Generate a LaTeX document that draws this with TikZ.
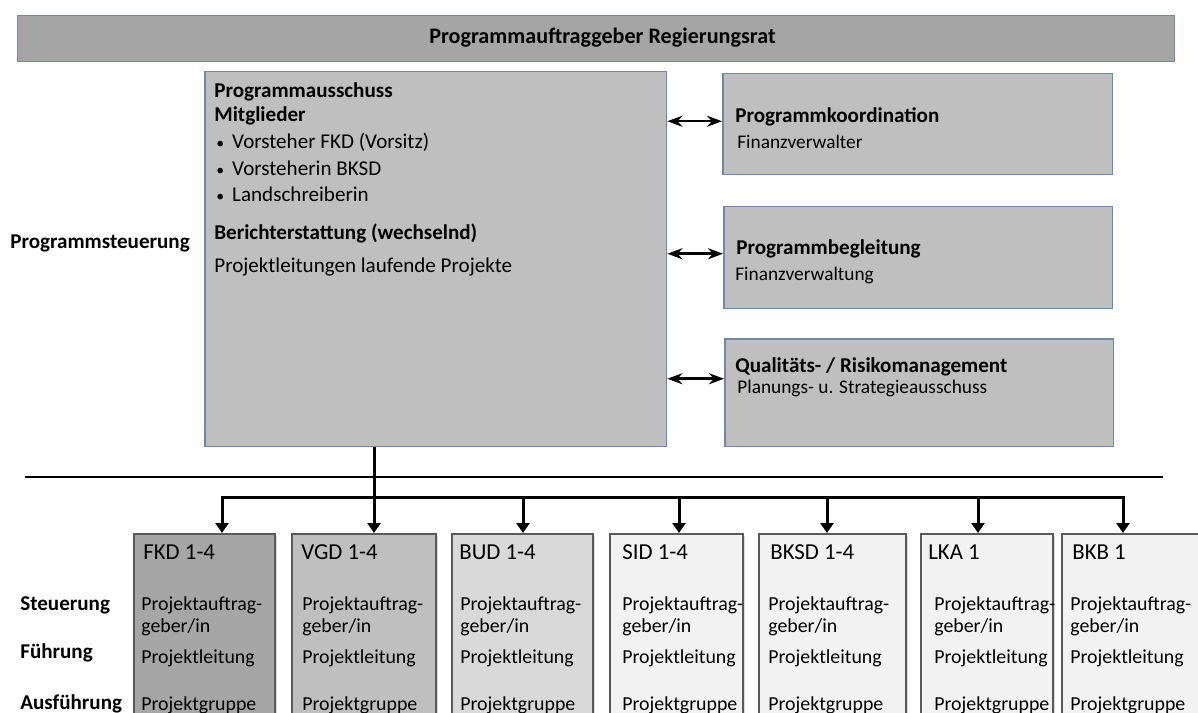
\documentclass[tikz,border=0pt]{standalone}
\usepackage{fontspec}
\setmainfont{Carlito}
\usetikzlibrary{arrows.meta,shadows}

\definecolor{topfill}{HTML}{A5A5A5}
\definecolor{mainfill}{HTML}{BFBFBF}
\definecolor{frameblue}{HTML}{6F88AA}
\definecolor{fkdfill}{HTML}{A6A6A6}
\definecolor{vgdfill}{HTML}{BFBFBF}
\definecolor{budfill}{HTML}{D9D9D9}
\definecolor{palefill}{HTML}{F2F2F2}
\definecolor{framegray}{HTML}{595959}

\newcommand\smallbullet{{\fontsize{9}{9}\selectfont\textbullet}\hspace{0.16cm}}

\begin{document}
\begin{tikzpicture}[x=0.02cm,y=-0.02cm,
  upbox/.style={draw=frameblue,line width=0.03cm,anchor=north west,inner sep=0pt},
  lowbox/.style={draw=framegray,line width=0.035cm,anchor=north west,inner sep=0pt,
    drop shadow={shadow xshift=0.05cm,shadow yshift=-0.05cm,opacity=0.3}},
  txt/.style={anchor=west,inner sep=0pt,font=\fontsize{12}{14}\selectfont},
  hd/.style={anchor=west,inner sep=0pt,font=\bfseries\fontsize{12}{14}\selectfont},
  sub/.style={anchor=west,inner sep=0pt,font=\fontsize{11}{13}\selectfont},
  lowtitle/.style={anchor=west,inner sep=0pt,font=\fontsize{13}{15}\selectfont},
  lowtxt/.style={anchor=west,inner sep=0pt,align=left,font=\fontsize{11.3}{12.5}\selectfont},
  twoway/.style={line width=0.05cm,{Stealth[length=0.3cm,width=0.22cm]}-{Stealth[length=0.3cm,width=0.22cm]}},
  drop/.style={line width=0.06cm,-{Triangle[length=0.2cm,width=0.26cm]}},
  bus/.style={line width=0.06cm,line cap=rect},
  sepline/.style={line width=0.05cm}]

\useasboundingbox (0,0) rectangle (1198,713);
\clip (0,0) rectangle (1198,713);

% Programmebene
\node[upbox,fill=topfill,minimum width=23.14cm,minimum height=0.92cm] (auftrag) at (17,15) {};
\node[hd,font=\bfseries\fontsize{12.6}{14}\selectfont] (auftrag-t) at (429,38) {Programmauftraggeber Regierungsrat};

\node[upbox,fill=mainfill,minimum width=9.24cm,minimum height=7.5cm] (ausschuss) at (204,71) {};
\node[hd] (a1) at (214,92) {Programmausschuss};
\node[hd] (a2) at (214,116) {Mitglieder};
\node[txt] (a3) at (216,142) {\smallbullet Vorsteher FKD (Vorsitz)};
\node[txt] (a4) at (216,168) {\smallbullet Vorsteherin BKSD};
\node[txt] (a5) at (216,194) {\smallbullet Landschreiberin};
\node[hd] (a6) at (214,233) {Berichterstattung (wechselnd)};
\node[txt] (a7) at (214,267) {Projektleitungen laufende Projekte};

\node[upbox,fill=mainfill,minimum width=7.8cm,minimum height=2.02cm] (koord) at (722,73) {};
\node[hd] (koord-t) at (735,117) {Programmkoordination};
\node[sub] (koord-s) at (737,142) {Finanzverwalter};

\node[upbox,fill=mainfill,minimum width=7.78cm,minimum height=2.04cm] (begl) at (723,206) {};
\node[hd] (begl-t) at (736,249) {Programmbegleitung};
\node[sub] (begl-s) at (735,275) {Finanzverwaltung};

\node[upbox,fill=mainfill,minimum width=7.78cm,minimum height=2.16cm] (qual) at (724,338) {};
\node[hd] (qual-t) at (735,367) {Qualitäts- / Risikomanagement};
\node[sub] (qual-s) at (737,388) {Planungs- u. Strategieausschuss};

\node[hd] (progst) at (10,243) {Programmsteuerung};

\coordinate (k) at ([yshift=0.06cm]koord.west);
\coordinate (b) at ([yshift=0.08cm]begl.west);
\coordinate (q) at ([yshift=0.28cm]qual.west);
\draw[twoway] (k -| ausschuss.east) -- (k);
\draw[twoway] (b -| ausschuss.east) -- (b);
\draw[twoway] (q -| ausschuss.east) -- (q);

% Trennlinie
\coordinate (sepL) at (25,477);
\coordinate (sepR) at (1163,477);
\draw[sepline] (sepL) -- (sepR);

% Projektebene
\node[hd] (steu) at (20,605) {Steuerung};
\node[hd] (fuehr) at (20,653) {Führung};
\node[hd] (ausf) at (20,704) {Ausführung};

\foreach \nm/\xl/\xr/\col/\lbl/\ax/\px/\tx in {
  fkd/133/274/fkdfill/FKD 1-4/222/143/141,
  vgd/291/435/vgdfill/VGD 1-4/374/301/302,
  bud/451/592/budfill/BUD 1-4/523/459/460,
  sid/609/742/palefill/SID 1-4/679/622/622,
  bksd/758/905/palefill/BKSD 1-4/827/770/768,
  lka/920/1052/palefill/LKA 1/978/928/934,
  bkb/1061/1215/palefill/BKB 1/1123/1072/1070}{
  \node[lowbox,fill=\col,minimum width={(\xr-\xl)*0.02cm},minimum height=4.6cm] (\nm) at (\xl,533) {};
  \node[lowtitle] (\nm-t) at (\px,552) {\lbl};
  \node[lowtxt] (\nm-s) at (\tx,616) {Projektauftrag-\\geber/in};
  \node[lowtxt] (\nm-f) at (\tx,658) {Projektleitung};
  \node[lowtxt] (\nm-a) at (\tx,705) {Projektgruppe};
  \coordinate (\nm-in) at (\ax,533);
}

\coordinate (bus) at (0,497);
\draw[bus] (fkd-in |- bus) -- (bkb-in |- bus);
\draw[drop] (vgd-in |- ausschuss.south) -- (vgd-in);
\foreach \nm in {fkd,bud,sid,bksd,lka,bkb}
  \draw[drop] (\nm-in |- bus) -- (\nm-in);
\end{tikzpicture}
\end{document}
